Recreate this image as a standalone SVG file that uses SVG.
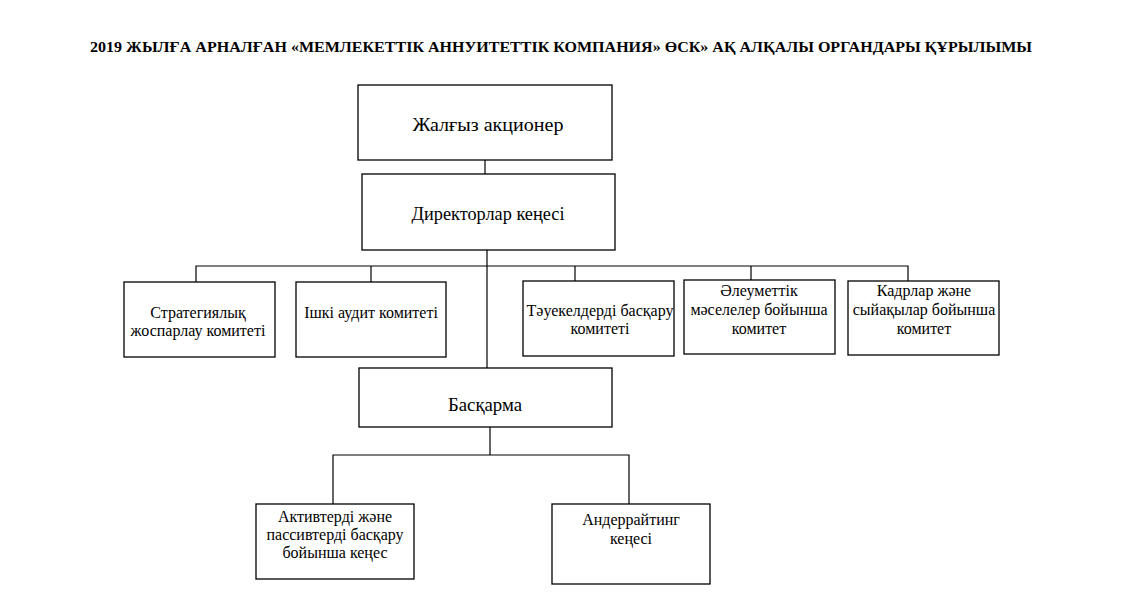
<svg xmlns="http://www.w3.org/2000/svg" width="1123" height="615" viewBox="0 0 1123 615">
<style>
.box{fill:#fff;stroke:#000;stroke-width:1.3}
.t{font-family:"Liberation Serif","Times New Roman",serif;font-size:16px;fill:#000;text-anchor:middle}
.big{font-size:19px}
.title{font-family:"Liberation Serif","Times New Roman",serif;font-size:14px;font-weight:bold;fill:#000}
.c{fill:none;stroke:#000;stroke-width:1.2}
</style>
<rect width="1123" height="615" fill="#fff"/>
<text class="title" x="90" y="52" textLength="942" lengthAdjust="spacingAndGlyphs">2019 ЖЫЛҒА АРНАЛҒАН «МЕМЛЕКЕТТІК АННУИТЕТТІК КОМПАНИЯ» ӨСК» АҚ АЛҚАЛЫ ОРГАНДАРЫ ҚҰРЫЛЫМЫ</text>
<g id="connectors">
<path class="c" d="M485 160V174"/>
<path class="c" d="M487 250V368"/>
<path class="c" d="M196 282V266H908V282"/>
<path class="c" d="M371 266V282"/>
<path class="c" d="M575 266V281"/>
<path class="c" d="M751 266V280"/>
<path class="c" d="M490 427V455"/>
<path class="c" d="M333 504V455H629V504"/>
</g>
<g id="n1"><rect class="box" x="358" y="85" width="254" height="75"/><text class="t big" x="488" y="131" textLength="151" lengthAdjust="spacingAndGlyphs">Жалғыз акционер</text></g>
<g id="n2"><rect class="box" x="362" y="174" width="253" height="76"/><text class="t big" x="488" y="220" textLength="153" lengthAdjust="spacingAndGlyphs">Директорлар кеңесі</text></g>
<g id="n3"><rect class="box" x="124" y="282" width="151" height="75"/><text class="t" x="198" y="318">Стратегиялық</text><text class="t" x="198" y="336">жоспарлау комитеті</text></g>
<g id="n4"><rect class="box" x="296" y="282" width="150" height="75"/><text class="t" x="371" y="318">Ішкі аудит комитеті</text></g>
<g id="n5"><rect class="box" x="523" y="281" width="151" height="75"/><text class="t" x="600" y="316">Тәуекелдерді басқару</text><text class="t" x="600" y="334">комитеті</text></g>
<g id="n6"><rect class="box" x="684" y="280" width="151" height="74"/><text class="t" x="759" y="296">Әлеуметтік</text><text class="t" x="759" y="315">мәселелер бойынша</text><text class="t" x="759" y="334">комитет</text></g>
<g id="n7"><rect class="box" x="848" y="281" width="151" height="74"/><text class="t" x="924" y="296">Кадрлар және</text><text class="t" x="924" y="315">сыйақылар бойынша</text><text class="t" x="924" y="334">комитет</text></g>
<g id="n8"><rect class="box" x="359" y="368" width="253" height="59"/><text class="t big" x="485" y="411" textLength="74" lengthAdjust="spacingAndGlyphs">Басқарма</text></g>
<g id="n9"><rect class="box" x="256" y="504" width="158" height="75"/><text class="t" x="335" y="522">Активтерді және</text><text class="t" x="335" y="540">пассивтерді басқару</text><text class="t" x="335" y="558">бойынша кеңес</text></g>
<g id="n10"><rect class="box" x="552" y="504" width="158" height="80"/><text class="t" x="631" y="525">Андеррайтинг</text><text class="t" x="631" y="544">кеңесі</text></g>
</svg>
